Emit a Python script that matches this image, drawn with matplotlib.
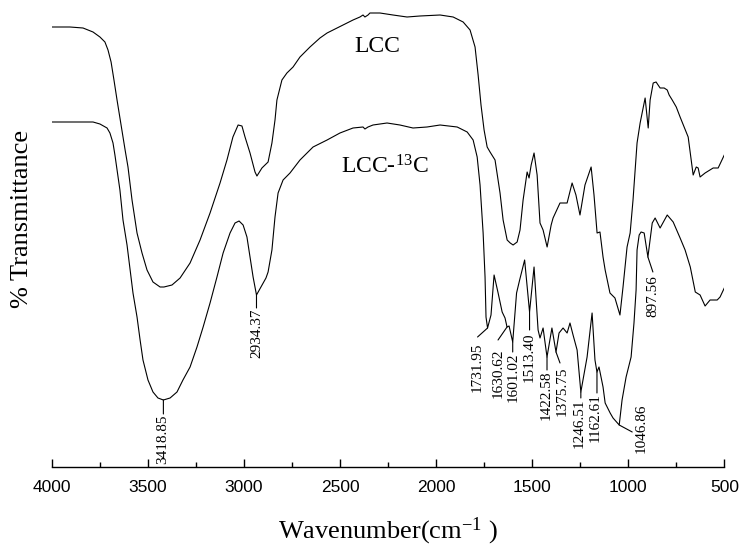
import matplotlib

matplotlib.use("Agg")
import matplotlib.pyplot as plt
import numpy as np
from matplotlib.ticker import MultipleLocator

# FTIR spectra (transmittance in arbitrary units, curves offset)
LCC_WN = [4000, 3905, 3837, 3785, 3749, 3723, 3707, 3691, 3676, 3660, 3639, 3618, 3603,
          3582, 3556, 3530, 3504, 3473, 3436, 3416, 3374, 3332, 3280, 3228, 3176, 3124,
          3088, 3057, 3030, 3010, 2994, 2968, 2942, 2932, 2906, 2874, 2854, 2838, 2828,
          2802, 2776, 2744, 2708, 2656, 2604, 2567, 2536, 2484, 2432, 2396, 2380, 2370,
          2354, 2344, 2292, 2224, 2151, 2084, 1979, 1911, 1859, 1823, 1797, 1781, 1766,
          1750, 1734, 1719, 1693, 1667, 1651, 1630, 1614, 1599, 1578, 1563, 1547, 1526,
          1516, 1505, 1490, 1474, 1459, 1443, 1422, 1401, 1391, 1355, 1318, 1292, 1272,
          1251, 1225, 1193, 1178, 1162, 1147, 1131, 1120, 1095, 1069, 1043, 1027, 1006,
          990, 975, 954, 938, 912, 896, 886, 870, 855, 834, 813, 797, 787, 771, 750, 730,
          688, 672, 662, 646, 636, 626, 600, 558, 532, 500]
LCC_T = [440, 440, 439, 435, 430, 425, 417, 405, 387, 367, 342, 317, 300,
         267, 234, 214, 197, 185, 180, 180, 182, 189, 204, 227, 254, 284,
         307, 330, 342, 341, 330, 314, 295, 291, 299, 305, 324, 347, 367,
         387, 394, 400, 410, 420, 429, 434, 437, 442, 447, 450, 452, 450,
         452, 454, 454, 452, 450, 451, 452, 450, 445, 437, 420, 392, 362,
         337, 320, 315, 307, 274, 247, 227, 224, 222, 225, 237, 267, 295,
         289, 302, 314, 292, 244, 237, 220, 242, 249, 264, 264, 284, 272,
         252, 282, 300, 272, 234, 235, 210, 197, 174, 169, 152, 180, 220,
         234, 267, 324, 344, 369, 339, 367, 384, 385, 379, 379, 377, 372, 367, 360, 350,
         330, 307, 292, 300, 299, 290, 294, 299, 299, 312]

LCC13_WN = [4000, 3785, 3749, 3712, 3697, 3681, 3671, 3660, 3645, 3629, 3608, 3593, 3577,
            3556, 3540, 3525, 3499, 3473, 3447, 3418.85, 3384, 3348, 3317, 3280, 3244,
            3212, 3176, 3140, 3108, 3072, 3046, 3025, 3004, 2984, 2968, 2952, 2934.37,
            2911, 2885, 2874, 2854, 2838, 2822, 2796, 2760, 2708, 2640, 2567, 2500, 2432,
            2380, 2370, 2354, 2328, 2255, 2188, 2120, 2047, 1979, 1890, 1838, 1807, 1786,
            1771, 1755, 1745, 1740, 1731.95, 1714, 1698, 1677, 1656, 1641, 1630.62, 1620,
            1601.02, 1581, 1565, 1539, 1513.40, 1490, 1469, 1459, 1443, 1422.58, 1397,
            1375.75, 1360, 1339, 1318, 1303, 1287, 1266, 1246.51, 1214, 1188, 1173,
            1162.61, 1152, 1131, 1120, 1094, 1079, 1046.86, 1032, 1011, 985, 970, 959,
            954, 943, 933, 917, 897.56, 875, 860, 834, 797, 766, 730, 704, 677, 651, 626,
            600, 574, 537, 522, 500]
LCC13_T = [345, 345, 343, 339, 334, 324, 312, 297, 277, 247, 222, 199, 174,
           150, 127, 107, 87, 75, 69, 67, 69, 75, 87, 100, 120,
           140, 164, 190, 214, 234, 244, 246, 242, 230, 210, 190, 172,
           180, 189, 195, 217, 250, 274, 287, 294, 307, 320, 327, 334, 339,
           340, 338, 340, 342, 344, 342, 339, 340, 342, 340, 335, 327, 310,
           282, 234, 190, 150, 139, 152, 192, 174, 155, 149, 140, 141,
           125, 174, 187, 207, 155, 200, 137, 129, 139, 110, 139,
           115, 134, 139, 134, 144, 132, 117, 75, 110, 154, 107,
           95, 100, 80, 64, 54, 49, 42, 67, 90, 110, 144, 177,
           217, 232, 235, 234, 210, 244, 249, 239, 252, 245, 229, 217, 200, 175, 172,
           161, 167, 167, 170, 179]

PEAKS = [3418.85, 2934.37, 1731.95, 1630.62, 1601.02, 1513.40,
         1422.58, 1375.75, 1246.51, 1162.61, 1046.86, 897.56]

# leader end (dx, dy) and text anchor (dx, dy) in pixels, plus vertical alignment
LABEL_LAYOUT = [
    ((0, -14), (-1, -14), "top"),
    ((0, -13), (0, -13), "top"),
    ((-10, -9), (-10, -14), "top"),
    ((-9, -13), (-9, -21), "top"),
    ((0, -10), (0, -10), "top"),
    ((0, -18), (0, -21), "top"),
    ((0, -13), (-1, -14), "top"),
    ((4, -11), (6, -15), "top"),
    ((0, -6), (-2, -7), "top"),
    ((0, -21), (-2, -21), "top"),
    ((13, -7), (22, -28), "bottom"),
    ((5, -15), (5, -18), "top"),
]

SERIF = ["Liberation Serif", "DejaVu Serif"]
plt.rcParams["mathtext.fontset"] = "custom"
plt.rcParams["mathtext.rm"] = "Liberation Serif"
plt.rcParams["mathtext.it"] = "Liberation Serif:italic"

fig = plt.figure(figsize=(7.4, 5.46), dpi=100)
ax = fig.add_axes([51.7 / 740, 79 / 546, 672.6 / 740, 467 / 546])

ax.plot(LCC_WN, LCC_T, color="black", lw=0.8)
ax.plot(LCC13_WN, LCC13_T, color="black", lw=0.8)

wn_sorted = np.array(LCC13_WN)[::-1]
t_sorted = np.array(LCC13_T)[::-1]
for wn, ((lx, ly), (tx, ty), va) in zip(PEAKS, LABEL_LAYOUT):
    y = np.interp(wn, wn_sorted, t_sorted)
    ax.annotate("", xy=(wn, y), xytext=(lx, ly), textcoords="offset pixels",
                arrowprops=dict(arrowstyle="-", lw=0.8, color="black",
                                shrinkA=0, shrinkB=0))
    ax.annotate(f"{wn:.2f}", xy=(wn, y), xytext=(tx, ty), textcoords="offset pixels",
                rotation=90, ha="center", va=va, fontsize=11, family=SERIF)

ax.text(2307, 415, "LCC", fontsize=17, family=SERIF, ha="center", va="baseline")
ax.text(2265, 294, r"LCC-$^{\mathrm{13}}$C", fontsize=17, family=SERIF,
        ha="center", va="baseline")

ax.set_xlim(4000, 500)
ax.set_ylim(0, 467)
for side in ("left", "right", "top"):
    ax.spines[side].set_visible(False)
ax.spines["bottom"].set_linewidth(1.0)
ax.set_yticks([])
ax.xaxis.set_major_locator(MultipleLocator(500))
ax.xaxis.set_minor_locator(MultipleLocator(250))
ax.tick_params(axis="x", which="major", direction="in", length=6, width=1.0, pad=9,
               labelsize=12.5)
ax.tick_params(axis="x", which="minor", direction="in", length=3.3, width=1.0)
for lab in ax.get_xticklabels():
    lab.set_family(["Liberation Sans", "DejaVu Sans"])

ax.set_xlabel(r"Wavenumber(cm$^{\mathrm{-1}}$ )", fontsize=19, family=SERIF)
ax.xaxis.set_label_coords(0.5, -0.105)
ax.set_ylabel("% Transmittance", fontsize=19, family=SERIF)
ax.yaxis.set_label_coords(-0.028, 0.531)

fig.savefig("out.png", dpi=100)
